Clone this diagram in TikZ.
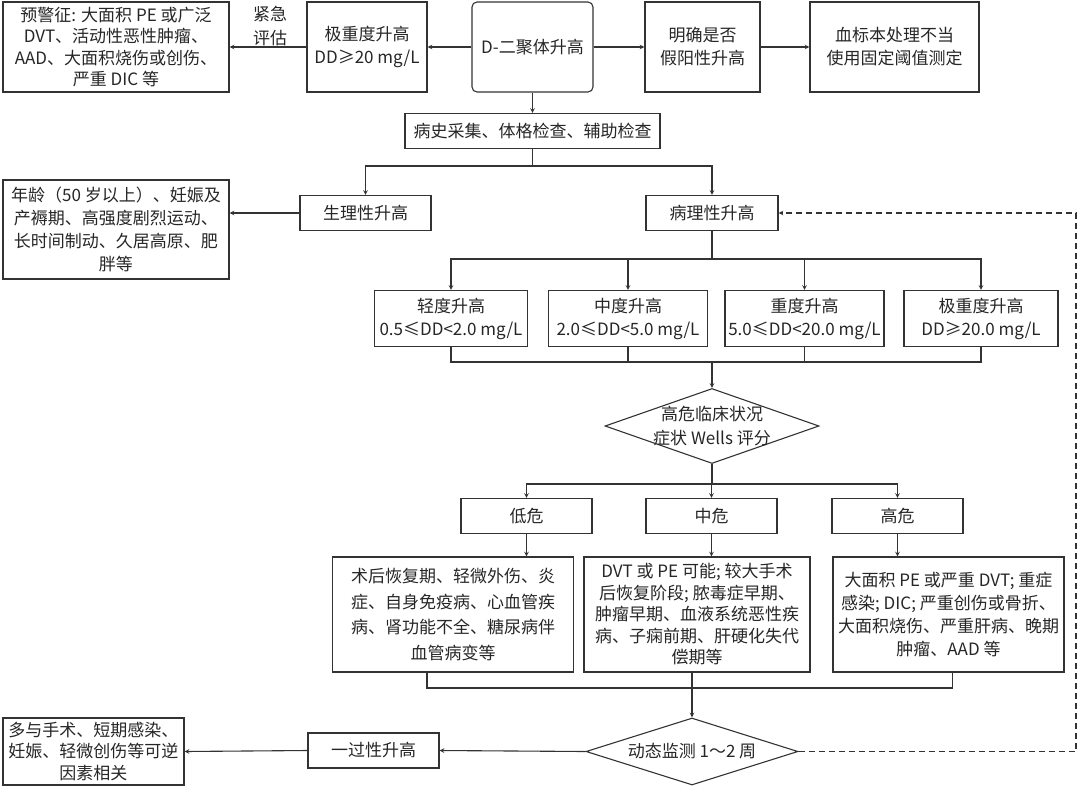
\documentclass[tikz,border=0pt]{standalone}
\usepackage{fontspec}
\setmainfont{Noto Sans CJK SC}
\usepackage{tikz}
\usetikzlibrary{shapes.geometric, arrows}
\tikzstyle{box} = [rectangle, draw=black!80, line width=1.1pt, text=black!85, align=center, inner sep=2pt, font=\fontsize{17}{23}\selectfont]
\tikzstyle{tight} = [font=\fontsize{17}{21.5}\selectfont]
\tikzstyle{decision} = [diamond, draw=black!80, line width=1.1pt, inner sep=0pt]
\tikzstyle{dtext} = [text=black!85, align=center, font=\fontsize{17}{24}\selectfont]
\tikzstyle{arrow} = [line width=1.1pt, draw=black!80, ->, >=stealth]
\tikzstyle{line} = [line width=1.1pt, draw=black!80]

\begin{document}
\begin{tikzpicture}[x=1pt, y=-1pt]
\useasboundingbox (0,0) rectangle (1080,788);
% top row
\node[box, tight, minimum width=226pt, minimum height=90pt] (warn) at (116,47) {预警征: 大面积 PE 或广泛\\DVT、活动性恶性肿瘤、\\AAD、大面积烧伤或创伤、\\严重 DIC 等};
\node[dtext] (urgent) at (270,26) {紧急\\评估};
\node[box, minimum width=120pt, minimum height=90pt] (ext) at (367,47) {极重度升高\\DD≥20 mg/L};
\node[box, rounded corners=5pt, minimum width=121pt, minimum height=90pt] (dd) at (532.5,47) {D-二聚体升高};
\node[box, minimum width=115pt, minimum height=90pt] (fp) at (702.5,47) {明确是否\\假阳性升高};
\node[box, minimum width=169pt, minimum height=90pt] (spec) at (894.5,47) {血标本处理不当\\使用固定阈值测定};
\node[box, minimum width=255pt, minimum height=35pt] (hist) at (532.5,131) {病史采集、体格检查、辅助检查};
% physiological / pathological
\node[box, minimum width=226pt, minimum height=99pt] (age) at (116,229.5) {年龄（50 岁以上）、妊娠及\\产褥期、高强度剧烈运动、\\长时间制动、久居高原、肥\\胖等};
\node[box, minimum width=131pt, minimum height=35pt] (phys) at (365.5,213) {生理性升高};
\node[box, minimum width=132pt, minimum height=35pt] (path) at (712,213) {病理性升高};
% grades
\node[box, minimum width=153pt, minimum height=56pt] (mild) at (451,318.5) {轻度升高\\0.5≤DD<2.0 mg/L};
\node[box, minimum width=159pt, minimum height=56pt] (mod) at (628,318.5) {中度升高\\2.0≤DD<5.0 mg/L};
\node[box, minimum width=159pt, minimum height=56pt] (sev) at (804.5,318.5) {重度升高\\5.0≤DD<20.0 mg/L};
\node[box, minimum width=154pt, minimum height=56pt] (xsev) at (981,318.5) {极重度升高\\DD≥20.0 mg/L};
\node[decision, minimum width=214pt, minimum height=75pt, label={[dtext]center:高危临床状况\\症状 Wells 评分}] (risk) at (712,426) {};
% risk levels
\node[box, minimum width=131pt, minimum height=35pt] (low) at (526.5,516) {低危};
\node[box, minimum width=131pt, minimum height=35pt] (mid) at (711.5,516) {中危};
\node[box, minimum width=131pt, minimum height=35pt] (high) at (897.5,516) {高危};
\node[box, font=\fontsize{17}{25.5}\selectfont, minimum width=241pt, minimum height=115pt] (d1) at (453,614.5) {术后恢复期、轻微外伤、炎\\症、自身免疫病、心血管疾\\病、肾功能不全、糖尿病伴\\血管病变等};
\node[box, tight, minimum width=226pt, minimum height=115pt] (d2) at (697,614.5) {DVT 或 PE 可能; 较大手术\\后恢复阶段; 脓毒症早期、\\肿瘤早期、血液系统恶性疾\\病、子痫前期、肝硬化失代\\偿期等};
\node[box, minimum width=231pt, minimum height=115pt] (d3) at (948.5,614.5) {大面积 PE 或严重 DVT; 重症\\感染; DIC; 严重创伤或骨折、\\大面积烧伤、严重肝病、晚期\\肿瘤、AAD 等};
% monitoring
\node[decision, minimum width=212pt, minimum height=67pt, label={[dtext]center:动态监测 1～2 周}] (mon) at (692,751.5) {};
\node[box, minimum width=131pt, minimum height=35pt] (trans) at (373.5,750.5) {一过性升高};
\node[box, tight, minimum width=181pt, minimum height=67pt] (rev) at (93.5,751.5) {多与手术、短期感染、\\妊娠、轻微创伤等可逆\\因素相关};

\coordinate (b1) at (532.5,166);
\coordinate (b2) at (712,259);
\coordinate (j2) at (712,362);
\coordinate (b3) at (712,484);
\coordinate (j4) at (692,688);
\coordinate (dc) at (1076,751.5);

\draw[arrow] (dd.west) -- (ext.east);
\draw[arrow] (ext.west) -- (warn.east);
\draw[arrow] (dd.east) -- (fp.west);
\draw[arrow] (fp.east) -- (spec.west);
\draw[arrow] (dd.south) -- (hist.north);
\draw[line] (hist.south) -- (b1);
\draw[arrow] (b1) -| (phys.north);
\draw[arrow] (b1) -| (path.north);
\draw[arrow] (phys.west) -- (phys.west -| age.east);
\draw[line] (path.south) -- (b2);
\foreach \n in {mild,mod,sev,xsev}
  \draw[arrow] (b2) -| (\n.north);
\foreach \n in {mild,mod,sev,xsev}
  \draw[line] (\n.south) |- (j2);
\draw[arrow] (j2) -- (risk.north);
\draw[line] (risk.south) -- (b3);
\foreach \n in {low,mid,high}
  \draw[arrow] (b3) -| (\n.north);
\draw[arrow] (low.south) -- (low.south |- d1.north);
\draw[arrow] (mid.south) -- (mid.south |- d2.north);
\draw[arrow] (high.south) -- (high.south |- d3.north);
\draw[line] ([xshift=-26pt]d1.south) |- (j4);
\draw[line] ([xshift=4pt]d3.south) |- (j4);
\draw[line] (d2.south -| j4) -- (j4);
\draw[arrow] (j4) -- (mon.north);
\draw[arrow] (mon.west) -- (trans.east);
\draw[arrow] (trans.west) -- (rev.east);
\draw[arrow, dash pattern=on 6pt off 4pt] (mon.east) -- (dc) |- (path.east);
\end{tikzpicture}
\end{document}
